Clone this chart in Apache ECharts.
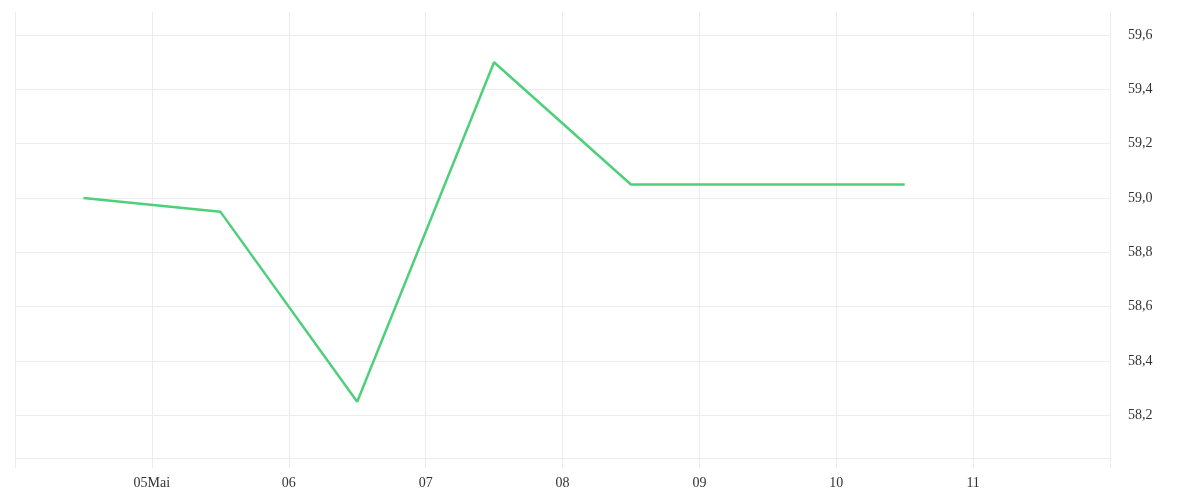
<!DOCTYPE html>
<html>
<head>
<meta charset="utf-8">
<script src="https://cdn.jsdelivr.net/npm/echarts@6/dist/echarts.min.js"></script>
<style>html,body{margin:0;padding:0;background:#fff}#c{width:1200px;height:500px}</style>
</head>
<body>
<div id="c"></div>
<script>
// Day-of-month positions (noon of each day) and values
const dayPositions = [4.5, 5.5, 6.5, 7.5, 8.5, 9.5, 10.5];
const values = [59.0, 58.95, 58.25, 59.5, 59.05, 59.05, 59.05];
// X tick labels, keyed by day number
const xTickDays = [4, 5, 6, 7, 8, 9, 10, 11, 12];
const xTickLabels = ['', '05Mai', '06', '07', '08', '09', '10', '11', ''];
// Y tick values
const yTicks = [58.2, 58.4, 58.6, 58.8, 59.0, 59.2, 59.4, 59.6];

const gridColor = '#ececec';
const font = '"Liberation Serif", serif';

const chart = echarts.init(document.getElementById('c'), null, {renderer: 'canvas'});
chart.setOption({
  animation: false,
  backgroundColor: '#ffffff',
  grid: {left: 15, right: 90, top: 12, bottom: 42, containLabel: false},
  xAxis: {
    type: 'value',
    min: xTickDays[0],
    max: xTickDays[xTickDays.length - 1],
    interval: 1,
    axisLine: {show: true, lineStyle: {color: gridColor, width: 1}},
    axisTick: {show: true, length: 10, lineStyle: {color: gridColor}},
    splitLine: {show: true, lineStyle: {color: gridColor, width: 1}},
    axisLabel: {
      margin: 18,
      color: '#333',
      fontFamily: font,
      fontSize: 14,
      formatter: function (v) {
        const i = xTickDays.indexOf(Math.round(v));
        return i >= 0 ? xTickLabels[i] : '';
      }
    }
  },
  yAxis: {
    type: 'value',
    position: 'right',
    min: 58.043,
    max: 59.685,
    axisLine: {show: true, lineStyle: {color: gridColor, width: 1}},
    axisTick: {show: false, customValues: yTicks},
    splitLine: {show: true, lineStyle: {color: gridColor, width: 1}},
    axisLabel: {
      customValues: yTicks,
      margin: 18,
      color: '#333',
      fontFamily: font,
      fontSize: 14,
      formatter: function (v) { return v.toFixed(1).replace('.', ','); }
    }
  },
  series: [{
    type: 'line',
    data: dayPositions.map((d, i) => [d, values[i]]),
    showSymbol: false,
    symbol: 'none',
    lineStyle: {color: '#4ed07b', width: 2.5},
    itemStyle: {color: '#4ed07b'}
  }]
});
</script>
</body>
</html>
